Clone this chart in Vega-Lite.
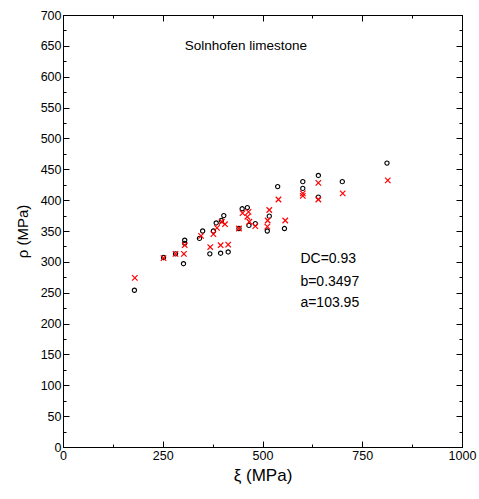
{
  "$schema": "https://vega.github.io/schema/vega-lite/v6.json",
  "autosize": {"type": "none"},
  "width": 399,
  "height": 432,
  "padding": {"left": 63, "top": 15, "right": 17, "bottom": 52},
  "background": "white",
  "config": {
    "view": {"stroke": "black", "strokeWidth": 1},
    "font": "Liberation Sans",
    "axis": {"grid": false, "domainColor": "black", "tickColor": "black", "labelColor": "black", "titleColor": "black", "labelFont": "Liberation Sans", "titleFont": "Liberation Sans", "labelFontSize": 12.5, "titleFontWeight": "normal"}
  },
  "datasets": {
    "circles": [
      {"xi": 179, "rho": 254}, {"xi": 252, "rho": 307}, {"xi": 282, "rho": 313}, {"xi": 302, "rho": 297},
      {"xi": 305, "rho": 330}, {"xi": 305, "rho": 335}, {"xi": 342, "rho": 338}, {"xi": 350, "rho": 350},
      {"xi": 368, "rho": 313}, {"xi": 377, "rho": 350}, {"xi": 384, "rho": 363}, {"xi": 397, "rho": 367},
      {"xi": 403, "rho": 375}, {"xi": 395, "rho": 314}, {"xi": 414, "rho": 316}, {"xi": 441, "rho": 354},
      {"xi": 449, "rho": 386}, {"xi": 462, "rho": 388}, {"xi": 466, "rho": 359}, {"xi": 482, "rho": 362},
      {"xi": 512, "rho": 350}, {"xi": 517, "rho": 374}, {"xi": 538, "rho": 422}, {"xi": 555, "rho": 354},
      {"xi": 601, "rho": 430}, {"xi": 601, "rho": 419}, {"xi": 640, "rho": 440}, {"xi": 640, "rho": 405},
      {"xi": 700, "rho": 430}, {"xi": 812, "rho": 460}
    ],
    "crosses": [
      {"xi": 180, "rho": 274}, {"xi": 252, "rho": 306}, {"xi": 282, "rho": 313}, {"xi": 303, "rho": 313},
      {"xi": 305, "rho": 327}, {"xi": 346, "rho": 342}, {"xi": 369, "rho": 324}, {"xi": 377, "rho": 345},
      {"xi": 386, "rho": 355}, {"xi": 406, "rho": 361}, {"xi": 395, "rho": 327}, {"xi": 414, "rho": 328},
      {"xi": 441, "rho": 354}, {"xi": 450, "rho": 379}, {"xi": 465, "rho": 381}, {"xi": 462, "rho": 373},
      {"xi": 467, "rho": 365}, {"xi": 482, "rho": 358}, {"xi": 517, "rho": 384}, {"xi": 513, "rho": 367},
      {"xi": 512, "rho": 357}, {"xi": 540, "rho": 401}, {"xi": 557, "rho": 367}, {"xi": 601, "rho": 411},
      {"xi": 601, "rho": 407}, {"xi": 640, "rho": 428}, {"xi": 640, "rho": 401}, {"xi": 701, "rho": 411},
      {"xi": 814, "rho": 432}, {"xi": 398, "rho": 365}
    ],
    "notes": [
      {"xi": 305, "rho": 650, "label": "Solnhofen limestone", "size": 13.5},
      {"xi": 595, "rho": 304, "label": "DC=0.93", "size": 14},
      {"xi": 595, "rho": 268, "label": "b=0.3497", "size": 14},
      {"xi": 595, "rho": 234, "label": "a=103.95", "size": 14}
    ]
  },
  "layer": [
    {
      "data": {"name": "circles"},
      "mark": {"type": "point", "shape": "circle", "filled": false, "color": "black", "size": 18, "strokeWidth": 1.1, "opacity": 1},
      "encoding": {
        "x": {"field": "xi", "type": "quantitative", "scale": {"domain": [0, 1000], "nice": false},
          "axis": {"orient": "bottom", "values": [0,125,250,375,500,625,750,875,1000], "format": "d", "tickSize": {"condition": {"test": "datum.value % 250 === 0", "value": -6}, "value": -3},
            "labelExpr": "datum.value % 250 === 0 ? datum.label : ''", "labelPadding": 8, "title": "ξ (MPa)", "titleFontSize": 17, "titlePadding": 6, "labelFlush": false}},
        "y": {"field": "rho", "type": "quantitative", "scale": {"domain": [0, 700], "nice": false},
          "axis": {"orient": "left", "values": [0,25,50,75,100,125,150,175,200,225,250,275,300,325,350,375,400,425,450,475,500,525,550,575,600,625,650,675,700], "format": "d", "tickSize": {"condition": {"test": "datum.value % 50 === 0", "value": -6}, "value": -3},
            "labelExpr": "datum.value % 50 === 0 ? datum.label : ''", "labelPadding": 8, "title": "ρ (MPa)", "titleFontSize": 15, "titlePadding": 10}}
      }
    },
    {
      "data": {"name": "crosses"},
      "mark": {"type": "point", "shape": "M-1,-1L1,1M-1,1L1,-1", "filled": false, "color": "red", "size": 30, "strokeWidth": 1.2, "opacity": 1},
      "encoding": {
        "x": {"field": "xi", "type": "quantitative",
          "axis": {"orient": "top", "values": [0,125,250,375,500,625,750,875,1000], "tickSize": {"condition": {"test": "datum.value % 250 === 0", "value": -6}, "value": -3}, "labels": false, "title": null}},
        "y": {"field": "rho", "type": "quantitative",
          "axis": {"orient": "right", "values": [0,25,50,75,100,125,150,175,200,225,250,275,300,325,350,375,400,425,450,475,500,525,550,575,600,625,650,675,700], "tickSize": {"condition": {"test": "datum.value % 50 === 0", "value": -6}, "value": -3}, "labels": false, "title": null}}
      }
    },
    {
      "data": {"name": "notes"},
      "mark": {"type": "text", "align": "left", "baseline": "middle", "font": "Liberation Sans", "color": "black"},
      "encoding": {
        "x": {"field": "xi", "type": "quantitative", "axis": null},
        "y": {"field": "rho", "type": "quantitative", "axis": null},
        "text": {"field": "label"},
        "size": {"field": "size", "type": "quantitative", "scale": null}
      }
    }
  ],
  "resolve": {"axis": {"x": "independent", "y": "independent"}}
}
